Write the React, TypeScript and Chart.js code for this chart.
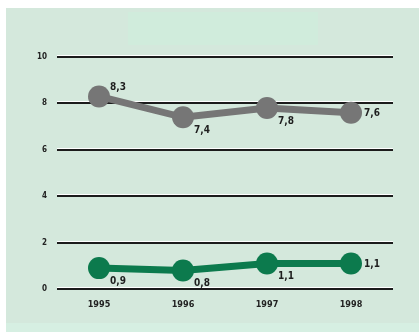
import React, { useEffect, useRef } from "react";
import { Chart, registerables } from "chart.js";

Chart.register(...registerables);

const years = ["1995", "1996", "1997", "1998"];
const greySeries = [8.3, 7.4, 7.8, 7.6];
const greenSeries = [0.9, 0.8, 1.1, 1.1];
const yTicks = [0, 2, 4, 6, 8, 10];
// label placement relative to the point: "ne" upper right, "se" lower right, "e" right
const greyPlacement = ["ne", "se", "se", "e"];
const greenPlacement = ["se", "se", "se", "e"];

const FONT = "'DejaVu Sans Condensed', 'DejaVu Sans', sans-serif";

const offsets: Record<string, [number, number]> = {
  ne: [19, -9],
  se: [19, 13],
  e: [21, 1],
};

export default function App() {
  const ref = useRef<HTMLCanvasElement | null>(null);

  useEffect(() => {
    if (!ref.current) return;

    const gridPlugin = {
      id: "embossGrid",
      beforeDatasetsDraw(chart: any) {
        const { ctx, chartArea } = chart;
        const y = chart.scales.y;
        ctx.save();
        yTicks.forEach((v) => {
          const py = Math.round(y.getPixelForValue(v));
          ctx.fillStyle = "#ffffff";
          ctx.fillRect(chartArea.left, py - 2, chartArea.right - chartArea.left, 1);
          ctx.fillStyle = "#1b1b1b";
          ctx.fillRect(chartArea.left, py - 1, chartArea.right - chartArea.left, 2);
        });
        ctx.restore();
      },
    };

    const labelPlugin = {
      id: "valueLabels",
      afterDatasetsDraw(chart: any) {
        const { ctx } = chart;
        ctx.save();
        ctx.font = `bold 10px ${FONT}`;
        ctx.fillStyle = "#1e1e1e";
        ctx.textAlign = "center";
        ctx.textBaseline = "middle";
        chart.data.datasets.forEach((ds: any, di: number) => {
          const meta = chart.getDatasetMeta(di);
          const placement = di === 0 ? greyPlacement : greenPlacement;
          meta.data.forEach((pt: any, i: number) => {
            const [dx, dy] = offsets[placement[i]];
            const txt = Number(ds.data[i]).toFixed(1).replace(".", ",");
            ctx.fillText(txt, pt.x + dx, pt.y + dy);
          });
        });
        ctx.restore();
      },
    };

    const chart = new Chart(ref.current, {
      type: "line",
      data: {
        labels: years,
        datasets: [
          {
            data: greySeries,
            borderColor: "#767676",
            backgroundColor: "#767676",
            pointBackgroundColor: "#767676",
            pointBorderWidth: 0,
            pointRadius: 11,
            borderWidth: 7,
            tension: 0,
          },
          {
            data: greenSeries,
            borderColor: "#0c7a4d",
            backgroundColor: "#0c7a4d",
            pointBackgroundColor: "#0c7a4d",
            pointBorderWidth: 0,
            pointRadius: 11,
            borderWidth: 7,
            tension: 0,
          },
        ],
      },
      options: {
        responsive: false,
        animation: false,
        layout: { padding: { top: 57, right: 26, left: 0, bottom: 0 } },
        plugins: {
          legend: { display: false },
          tooltip: { enabled: false },
        },
        scales: {
          x: {
            offset: true,
            grid: { display: false, drawTicks: false },
            border: { display: false },
            ticks: {
              padding: 10,
              color: "#222",
              font: { family: FONT, size: 9, weight: "bold" },
            },
            afterFit(scale: any) {
              scale.height = 43;
            },
          },
          y: {
            min: 0,
            max: 10,
            grid: { display: false, drawTicks: false },
            border: { display: false },
            ticks: {
              stepSize: 2,
              padding: 10,
              color: "#222",
              font: { family: FONT, size: 8, weight: "bold" },
            },
            afterFit(scale: any) {
              scale.width = 57;
            },
          },
        },
      },
      plugins: [gridPlugin, labelPlugin],
    });

    return () => chart.destroy();
  }, []);

  return (
    <div
      style={{
        position: "absolute",
        left: 0,
        top: 0,
        width: 419,
        height: 332,
        background: "#ffffff",
        overflow: "hidden",
      }}
    >
      <div
        style={{
          position: "absolute",
          left: 6,
          top: 8,
          width: 413,
          height: 324,
          background: "#d4e8dc",
        }}
      />
      <div
        style={{
          position: "absolute",
          left: 128,
          top: 12,
          width: 190,
          height: 33,
          background: "#d0ecdc",
        }}
      />
      <div
        style={{
          position: "absolute",
          left: 6,
          top: 323,
          width: 413,
          height: 9,
          background: "#d6efe2",
        }}
      />
      <canvas
        ref={ref}
        width={419}
        height={332}
        style={{ position: "absolute", left: 0, top: 0, width: 419, height: 332 }}
      />
    </div>
  );
}
